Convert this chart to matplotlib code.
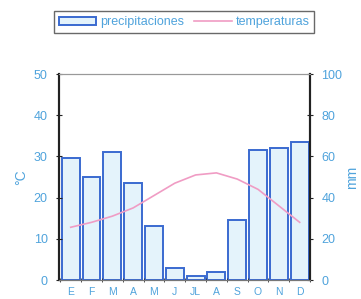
import matplotlib
matplotlib.use("Agg")
import matplotlib.pyplot as plt
import numpy as np

months = ["E", "F", "M", "A", "M", "J", "JL", "A", "S", "O", "N", "D"]
precip_mm = [59, 50, 62, 47, 26, 6, 2, 4, 29, 63, 64, 67]
temp_c = [12.8, 14.0, 15.5, 17.5, 20.5, 23.5, 25.5, 26.0, 24.5, 22.0, 18.0, 14.0]

lab_col = "#4fa3dc"
bar_face = "#e4f3fb"
bar_edge = "#3a6ad0"
line_col = "#f09cc4"

plt.rcParams['font.family'] = ['Liberation Sans', 'DejaVu Sans']

fig = plt.figure(figsize=(3.61, 2.99), dpi=100)
ax = fig.add_axes([0.163, 0.0635, 0.696, 0.689])
ax2 = ax.twinx()

x = np.arange(len(months))
bars = ax2.bar(x, precip_mm, width=0.86, color=bar_face, edgecolor=bar_edge,
               linewidth=1.4, label="precipitaciones", zorder=2)
ax2.set_ylim(0, 100)
ax2.set_yticks([0, 20, 40, 60, 80, 100])

ax.set_ylim(0, 50)
ax.set_yticks([0, 10, 20, 30, 40, 50])
ax.set_zorder(ax2.get_zorder() + 1)
ax.patch.set_visible(False)
line, = ax.plot(x, temp_c, color=line_col, linewidth=1.2, label="temperaturas")

ax.set_xlim(-0.57, 11.45)
ax.set_xticks(x)
ax.set_xticklabels(months)
ax.set_xticks(np.arange(-0.5, 11.6, 1.0), minor=True)
ax.tick_params(axis='x', which='major', length=0, colors=lab_col, labelsize=7.5, pad=5)
ax.tick_params(axis='x', which='minor', length=3, direction='inout', color='#333333')
ax.tick_params(axis='y', length=4, direction='inout', colors=lab_col, labelsize=9, pad=6)
ax.tick_params(axis='y', color='#222222')
ax2.tick_params(axis='y', length=4, direction='inout', colors=lab_col, labelsize=9, pad=6)
ax2.tick_params(axis='y', color='#222222')

for a in (ax, ax2):
    a.spines['left'].set_color('#222222')
    a.spines['right'].set_color('#222222')
    a.spines['left'].set_linewidth(1.5)
    a.spines['right'].set_linewidth(1.5)
    a.spines['bottom'].set_color('#777777')
    a.spines['top'].set_color('#999999')
    a.spines['top'].set_linewidth(0.8)

ax.set_ylabel("°C", color=lab_col, fontsize=10, labelpad=4)
ax2.set_ylabel("mm", color=lab_col, fontsize=10, labelpad=2)

leg = fig.legend([bars, line], ["precipitaciones", "temperaturas"],
                 loc='center', bbox_to_anchor=(0.51, 0.925), ncol=2,
                 frameon=True, fancybox=False, fontsize=9,
                 handlelength=3.0, handletextpad=0.3, columnspacing=0.8,
                 borderpad=0.4, borderaxespad=0)
leg.get_frame().set_edgecolor('#444444')
leg.get_frame().set_linewidth(1.0)
for t in leg.get_texts():
    t.set_color(lab_col)

fig.savefig("out.png", dpi=100)
